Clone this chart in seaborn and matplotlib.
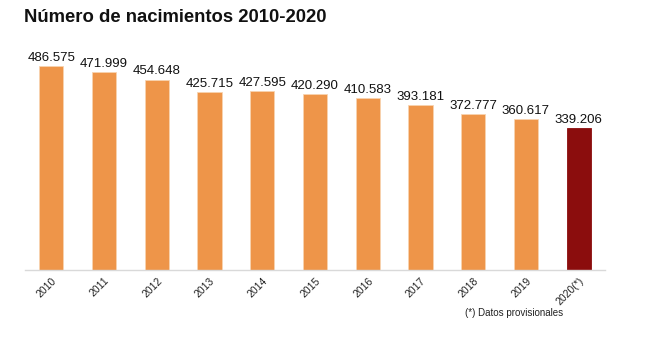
import matplotlib
matplotlib.use("Agg")
import matplotlib.pyplot as plt
import seaborn as sns
import pandas as pd

years = ["2010", "2011", "2012", "2013", "2014", "2015", "2016", "2017", "2018", "2019", "2020(*)"]
births = [486575, 471999, 454648, 425715, 427595, 420290, 410583, 393181, 372777, 360617, 339206]
labels = ["486.575", "471.999", "454.648", "425.715", "427.595", "420.290", "410.583", "393.181", "372.777", "360.617", "339.206"]
colors = ["#EE9549"] * 10 + ["#8B0D0D"]

sns.set_theme(style="white")
plt.rcParams['font.family'] = ['Liberation Sans', 'DejaVu Sans']

df = pd.DataFrame({"year": years, "births": births})

fig = plt.figure(figsize=(6.47, 3.37), dpi=100)
ax = fig.add_axes([25/647, (337-270)/337, 580/647, 230/337])
sns.barplot(data=df, x="year", y="births", hue="year", palette=colors, legend=False,
            width=0.46, ax=ax, saturation=1, edgecolor="#F8D3B0", linewidth=0.6)
ax.patches[-1].set_edgecolor("#8B0D0D")

ax.set_ylim(0, 549000)
ax.set_xlim(-0.5, 10.5)
for i, (v, t) in enumerate(zip(births, labels)):
    ax.text(i, v + 5000, t, ha="center", va="bottom", fontsize=9.5, color="#111111")

ax.set_xlabel("")
ax.set_ylabel("")
ax.set_yticks([])
for s in ["top", "right", "left"]:
    ax.spines[s].set_visible(False)
ax.spines["bottom"].set_color("#D9D9D9")
ax.spines["bottom"].set_linewidth(1)
ax.tick_params(axis="x", length=0, pad=4)
ax.set_xticks(range(len(years)))
ax.set_xticklabels(years, rotation=45, ha="right", rotation_mode="anchor", fontsize=7.5, color="#222222")

fig.text(24/647, 1 - 18/337, "Número de nacimientos 2010-2020", fontsize=13.3, fontweight="bold",
         ha="left", va="center", color="#111111")
fig.text(563/647, 1 - 313/337, "(*) Datos provisionales", fontsize=7, ha="right", va="center", color="#222222")

fig.savefig("out.png", dpi=100, facecolor="white")
